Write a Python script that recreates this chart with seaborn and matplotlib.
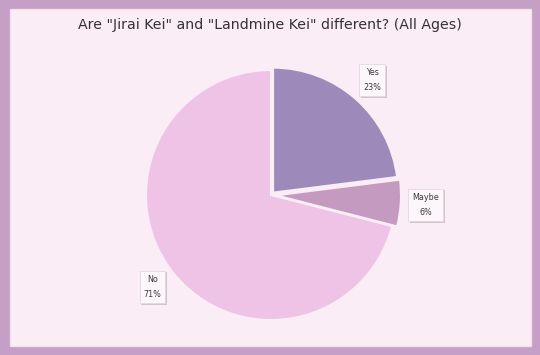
import matplotlib
matplotlib.use("Agg")
import matplotlib.pyplot as plt
import matplotlib.patheffects as pe
import seaborn as sns
from matplotlib.patches import Rectangle

categories = ["Yes", "Maybe", "No"]
values = [23, 6, 71]
colors = ["#9e8aba", "#c49ac0", "#efc3e6"]
title = 'Are "Jirai Kei" and "Landmine Kei" different? (All Ages)'

sns.set_theme(style="white")
plt.rcParams['font.family'] = ['DejaVu Sans']
palette = sns.color_palette(colors)

W, H = 540, 355
fig = plt.figure(figsize=(W / 100, H / 100), dpi=100)
fig.patch.set_facecolor("#c59fc6")
fig.patches.append(Rectangle((10 / W, 9 / H), 521 / W, 337 / H, transform=fig.transFigure,
                             facecolor="#fbedf5", edgecolor="#f1e0ec", lw=1, zorder=-5))

cx, cy, r = 271, 195, 125
ax = fig.add_axes([(cx - r) / W, (H - cy - r) / H, 2 * r / W, 2 * r / H])
ax.set_facecolor("none")
ax.set_zorder(2)

labels = [f"{c}\n{v}%" for c, v in zip(categories, values)]
wedges, texts = ax.pie(values, labels=labels, colors=palette, startangle=90, counterclock=False,
                       explode=[0.025, 0.04, 0.0], labeldistance=1.2,
                       wedgeprops=dict(edgecolor="#fbedf5", linewidth=1.5))
for t in texts:
    t.set_ha("center")
    t.set_va("center")
    t.set_fontsize(5.8)
    t.set_color("#3a3a3a")
    t.set_linespacing(1.9)
    t.set_zorder(5)
    t.set_bbox(dict(boxstyle="square,pad=0.5", facecolor="#fdf7fb", edgecolor="#e2d8de", linewidth=0.6))
    t.get_bbox_patch().set_path_effects([
        pe.SimplePatchShadow(offset=(1.2, -1.2), shadow_rgbFace="#b8aab4", alpha=0.6),
        pe.Normal()])
ax.set_xlim(-1, 1)
ax.set_ylim(-1, 1)
ax.set_aspect("equal")

fig.text(0.5, (H - 25) / H, title, ha="center", va="center", fontsize=10.2, color="#333333")

fig.savefig("out.png", dpi=100, facecolor=fig.get_facecolor())
